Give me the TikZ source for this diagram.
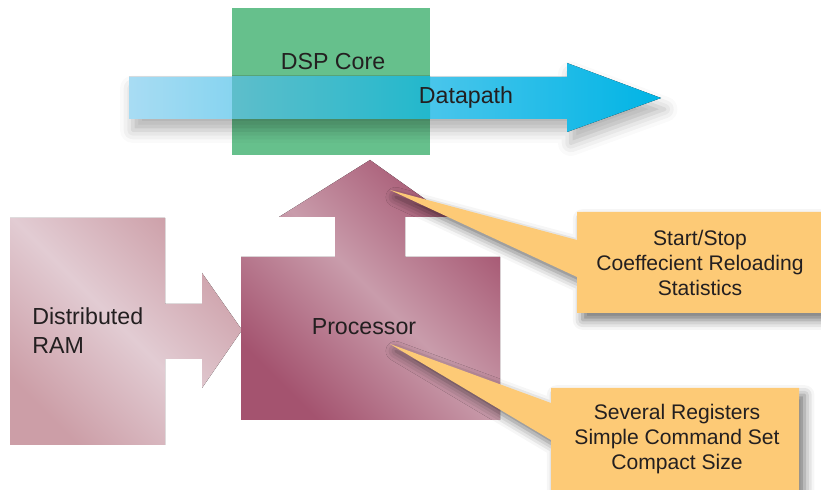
\documentclass[tikz,border=0pt]{standalone}
\usepackage{fontspec}
\setmainfont{Liberation Sans}
\usepackage{xcolor}
\definecolor{dspgreen}{HTML}{66C08C}
\definecolor{pathlight}{HTML}{A8DCF3}
\definecolor{pathdark}{HTML}{00B4E5}
\definecolor{overlaplight}{HTML}{5EBECB}
\definecolor{overlapdark}{HTML}{22B8CC}
\definecolor{procdark}{HTML}{A4536F}
\definecolor{proclight}{HTML}{C99CAB}
\definecolor{ramdark}{HTML}{CC9EA7}
\definecolor{ramlight}{HTML}{E2CCD3}
\definecolor{noteorange}{HTML}{FDCA76}
\definecolor{textgray}{HTML}{231F20}
\usepackage{tikz}
\usetikzlibrary{shadows.blur}

\begin{document}
\begin{tikzpicture}[x=0.025cm, y=-0.025cm,
    boxtext/.style={text=textgray, font=\fontsize{16.5}{20.6}\selectfont, inner sep=0pt},
    notetext/.style={text=textgray, font=\fontsize{15}{17.7}\selectfont, align=center, inner sep=0pt},
    callout/.style={fill=noteorange, blur shadow={shadow xshift=4pt, shadow yshift=-5pt,
        shadow blur radius=7pt, shadow opacity=55}}
]
  \useasboundingbox (0,0) rectangle (821,490);

  % Distributed RAM mit Pfeil
  \fill[top color=ramdark, bottom color=ramdark, middle color=ramlight, shading angle=-45]
    (10,218) -- (165,218) -- (165,304) -- (202,304) -- (202,273) -- (242,330)
    -- (202,388) -- (202,359) -- (165,359) -- (165,445) -- (10,445) -- cycle;

  % Processor mit Pfeil nach oben
  \fill[top color=procdark, bottom color=procdark, middle color=proclight, shading angle=-45]
    (241,420) -- (241,257) -- (335,257) -- (335,217) -- (279,217) -- (370,160)
    -- (450,217) -- (405,217) -- (405,257) -- (500,257) -- (500,420) -- cycle;

  % DSP Core
  \fill[dspgreen] (232,8) rectangle (430,155);

  % Datapath
  \fill[left color=pathlight, right color=pathdark,
      blur shadow={shadow yshift=-8pt, shadow blur radius=9pt, shadow opacity=30}]
    (129,77) -- (567,77) -- (567,63) -- (661,98) -- (567,132) -- (567,119)
    -- (129,119) -- cycle;
  \fill[left color=overlaplight, right color=overlapdark] (232,77) rectangle (430,119);

  % Hinweise
  \fill[callout] (390,190) -- (577,240) -- (577,212) -- (821,212) -- (821,313)
    -- (577,313) -- (577,277) -- cycle;
  \fill[callout] (390,344) -- (551,403) -- (551,388) -- (799,388) -- (799,495)
    -- (551,495) -- (551,440) -- cycle;

  % Texte
  \node[boxtext] (dsp) at (333,62) {DSP Core};
  \node[boxtext] (datapath) at (466,98) {Datapath};
  \node[boxtext] (proc) at (364,327) {Processor};
  \node[boxtext, align=left, anchor=west] (ram) at (32,331) {Distributed\\RAM};
  \node[notetext] (control) at (700,263) {Start/Stop\\Coeffecient Reloading\\Statistics};
  \node[notetext] (features) at (677,439) {Several Registers\\Simple Command Set\\Compact Size};

\end{tikzpicture}
\end{document}
